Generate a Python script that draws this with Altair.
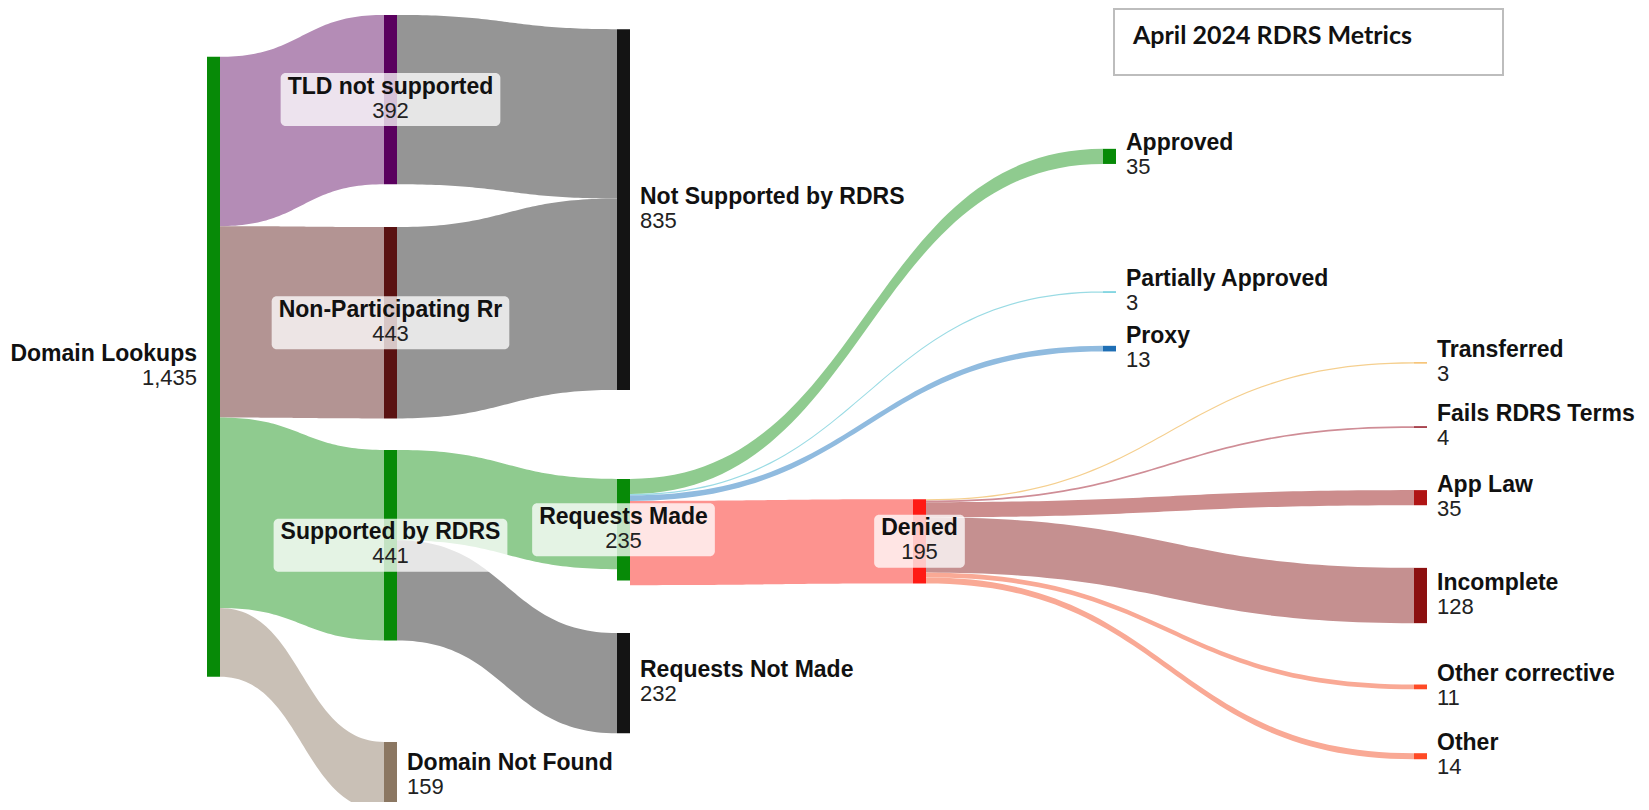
import altair as alt
import pandas as pd
import numpy as np

# ---------------- data ----------------
node_names = [
    "Domain Lookups", "TLD not supported", "Non-Participating Rr", "Supported by RDRS",
    "Domain Not Found", "Not Supported by RDRS", "Requests Made", "Requests Not Made",
    "Denied", "Approved", "Partially Approved", "Proxy", "Transferred",
    "Fails RDRS Terms", "App Law", "Incomplete", "Other corrective", "Other",
]
node_values = [1435, 392, 443, 441, 159, 835, 235, 232, 195, 35, 3, 13, 3, 4, 35, 128, 11, 14]

link_sources = [0, 0, 0, 0, 1, 2, 3, 3, 6, 6, 6, 6, 8, 8, 8, 8, 8, 8]
link_targets = [1, 2, 3, 4, 5, 5, 6, 7, 9, 10, 11, 8, 12, 13, 14, 15, 16, 17]
link_values = [392, 443, 441, 159, 392, 443, 209, 232, 35, 3, 13, 195, 3, 4, 35, 128, 11, 14]

title_text = "April 2024 RDRS Metrics"

# ---------------- layout & style (not data) ----------------
W, H = 1633, 794          # plot area in px
K = 0.432                 # px per flow unit
NODE_W = 13
YMAX = H / K

node_column = [0, 1, 1, 1, 1, 2, 2, 2, 3, 4, 4, 4, 5, 5, 5, 5, 5, 5]
column_left = [199, 376, 609, 905, 1095, 1406]
node_top = [113, 16, 507, 1023, 1699, 49, 1090, 1447, 1137, 326, 656, 782,
            820, 968, 1116, 1296, 1566, 1725]
label_side = ["left", "box", "box", "box", "right", "right", "box", "right", "box",
              "right", "right", "right", "right", "right", "right", "right", "right", "right"]
node_colors = ["#078a07", "#5a005e", "#5a1212", "#078a07", "#8b7762", "#141414",
               "#078a07", "#141414", "#ff1a14", "#078a07", "#4cc3d4", "#1f6fb5",
               "#f4b350", "#a0303c", "#b01515", "#8c1010", "#ff4a25", "#ff4a25"]
link_colors = ["#b48cb6", "#b39493", "#8fcb8f", "#c9c0b6", "#959595", "#959595",
               "#8fcb8f", "#959595", "#8fcb8f", "#9adbe4", "#90bbdf", "#fd938f",
               "#f5cf8e", "#cf8d96", "#cc8d8d", "#c59090", "#f9a995", "#f9a995"]

FONT = "Liberation Sans"
NAME_SIZE = 23
VAL_SIZE = 22

ARIAL_BOLD = {" ": 278, "-": 333, "A": 722, "D": 722, "L": 611, "M": 833, "N": 722,
              "P": 667, "R": 722, "S": 667, "T": 611, "a": 556, "b": 611, "c": 556,
              "d": 611, "e": 556, "g": 611, "i": 278, "n": 611, "o": 611, "p": 611,
              "q": 611, "r": 389, "s": 556, "t": 333, "u": 611, "y": 556}


def text_width(s, size):
    return sum(ARIAL_BOLD.get(ch, 600) for ch in s) / 1000.0 * size


def px(v):
    return v / K


# ---------------- links ----------------
src_off = {i: 0.0 for i in range(len(node_names))}
tgt_off = {i: 0.0 for i in range(len(node_names))}
link_rows = []
link_ids = []
for li, (s, t, v) in enumerate(zip(link_sources, link_targets, link_values)):
    lid = f"L{li:02d}"
    link_ids.append(lid)
    x0 = column_left[node_column[s]] + NODE_W
    x1 = column_left[node_column[t]]
    ys = node_top[s] + src_off[s]
    yt = node_top[t] + tgt_off[t]
    src_off[s] += v
    tgt_off[t] += v
    xm = (x0 + x1) / 2.0
    for tt in np.linspace(0, 1, 61):
        a = (1 - tt) ** 3
        b = 3 * (1 - tt) ** 2 * tt
        c = 3 * (1 - tt) * tt ** 2
        d = tt ** 3
        xx = a * x0 + (b + c) * xm + d * x1
        yy = (a + b) * ys + (c + d) * yt
        link_rows.append({"lid": lid, "x": xx, "y": yy, "y2": yy + v})
links_df = pd.DataFrame(link_rows)

# ---------------- nodes ----------------
node_ids = [f"N{i:02d}" for i in range(len(node_names))]
nodes_df = pd.DataFrame({
    "nid": node_ids,
    "x": [column_left[c] for c in node_column],
    "x2": [column_left[c] + NODE_W for c in node_column],
    "y": node_top,
    "y2": [t + v for t, v in zip(node_top, node_values)],
})

# ---------------- labels ----------------
lab_rows = []
for i, name in enumerate(node_names):
    c = node_column[i]
    center_y = node_top[i] + node_values[i] / 2.0
    side = label_side[i]
    if side == "left":
        lx, al = column_left[c] - 10, "right"
    elif side == "right":
        lx, al = column_left[c] + NODE_W + 10, "left"
    else:
        lx, al = column_left[c] + NODE_W / 2.0, "center"
    bw = text_width(name, NAME_SIZE) + 14
    lab_rows.append({
        "name": name, "val": f"{node_values[i]:,}", "x": lx, "yc": center_y,
        "align": al, "bx": lx - bw / 2, "bx2": lx + bw / 2,
        "by": center_y - px(26.5), "by2": center_y + px(26.5),
    })
labels_df = pd.DataFrame(lab_rows)
boxes_df = labels_df[labels_df["align"] == "center"]

xs = alt.Scale(domain=[0, W], nice=False, zero=False)
ys_ = alt.Scale(domain=[0, YMAX], nice=False, zero=False, reverse=True)

links = alt.Chart(links_df).mark_area(clip=True).encode(
    x=alt.X("x:Q", scale=xs, axis=None),
    y=alt.Y("y:Q", scale=ys_, axis=None, stack=None),
    y2="y2:Q",
    color=alt.Color("lid:N", scale=alt.Scale(domain=link_ids, range=link_colors), legend=None),
)

nodes = alt.Chart(nodes_df).mark_rect(clip=True).encode(
    x=alt.X("x:Q", scale=xs, axis=None),
    x2="x2:Q",
    y=alt.Y("y:Q", scale=ys_, axis=None),
    y2="y2:Q",
    color=alt.Color("nid:N", scale=alt.Scale(domain=node_ids, range=node_colors), legend=None),
)

boxes = alt.Chart(boxes_df).mark_rect(fill="white", opacity=0.76, cornerRadius=5).encode(
    x=alt.X("bx:Q", scale=xs, axis=None),
    x2="bx2:Q",
    y=alt.Y("by:Q", scale=ys_, axis=None),
    y2="by2:Q",
)

text_layers = []
for al in ["left", "center", "right"]:
    sub = labels_df[labels_df["align"] == al]
    base = alt.Chart(sub).encode(
        x=alt.X("x:Q", scale=xs, axis=None),
        y=alt.Y("yc:Q", scale=ys_, axis=None),
    )
    text_layers.append(base.mark_text(
        align=al, baseline="alphabetic", dy=-6, font=FONT, fontSize=NAME_SIZE,
        fontWeight="bold", color="#111111").encode(text="name:N"))
    text_layers.append(base.mark_text(
        align=al, baseline="alphabetic", dy=18, font=FONT, fontSize=VAL_SIZE,
        color="#222222").encode(text="val:N"))

title_box_df = pd.DataFrame({"x": [1106], "x2": [1495], "y": [px(1)], "y2": [px(67)]})
title_box = alt.Chart(title_box_df).mark_rect(
    fill="white", stroke="#bdbdbd", strokeWidth=2).encode(
    x=alt.X("x:Q", scale=xs, axis=None), x2="x2:Q",
    y=alt.Y("y:Q", scale=ys_, axis=None), y2="y2:Q",
)
title_df = pd.DataFrame({"x": [1125], "y": [px(36)], "t": [title_text]})
title = alt.Chart(title_df).mark_text(
    align="left", baseline="alphabetic", font="Lato", fontSize=25,
    fontWeight="bold", color="#111111").encode(
    x=alt.X("x:Q", scale=xs, axis=None),
    y=alt.Y("y:Q", scale=ys_, axis=None),
    text="t:N",
)

chart = alt.layer(links, nodes, boxes, *text_layers, title_box, title).properties(
    width=W, height=H, padding=0,
    autosize=alt.AutoSizeParams(type="none"),
).resolve_scale(color="independent").configure_view(stroke=None)

chart.save("out.html", embed_options={"renderer": "svg", "actions": False})
